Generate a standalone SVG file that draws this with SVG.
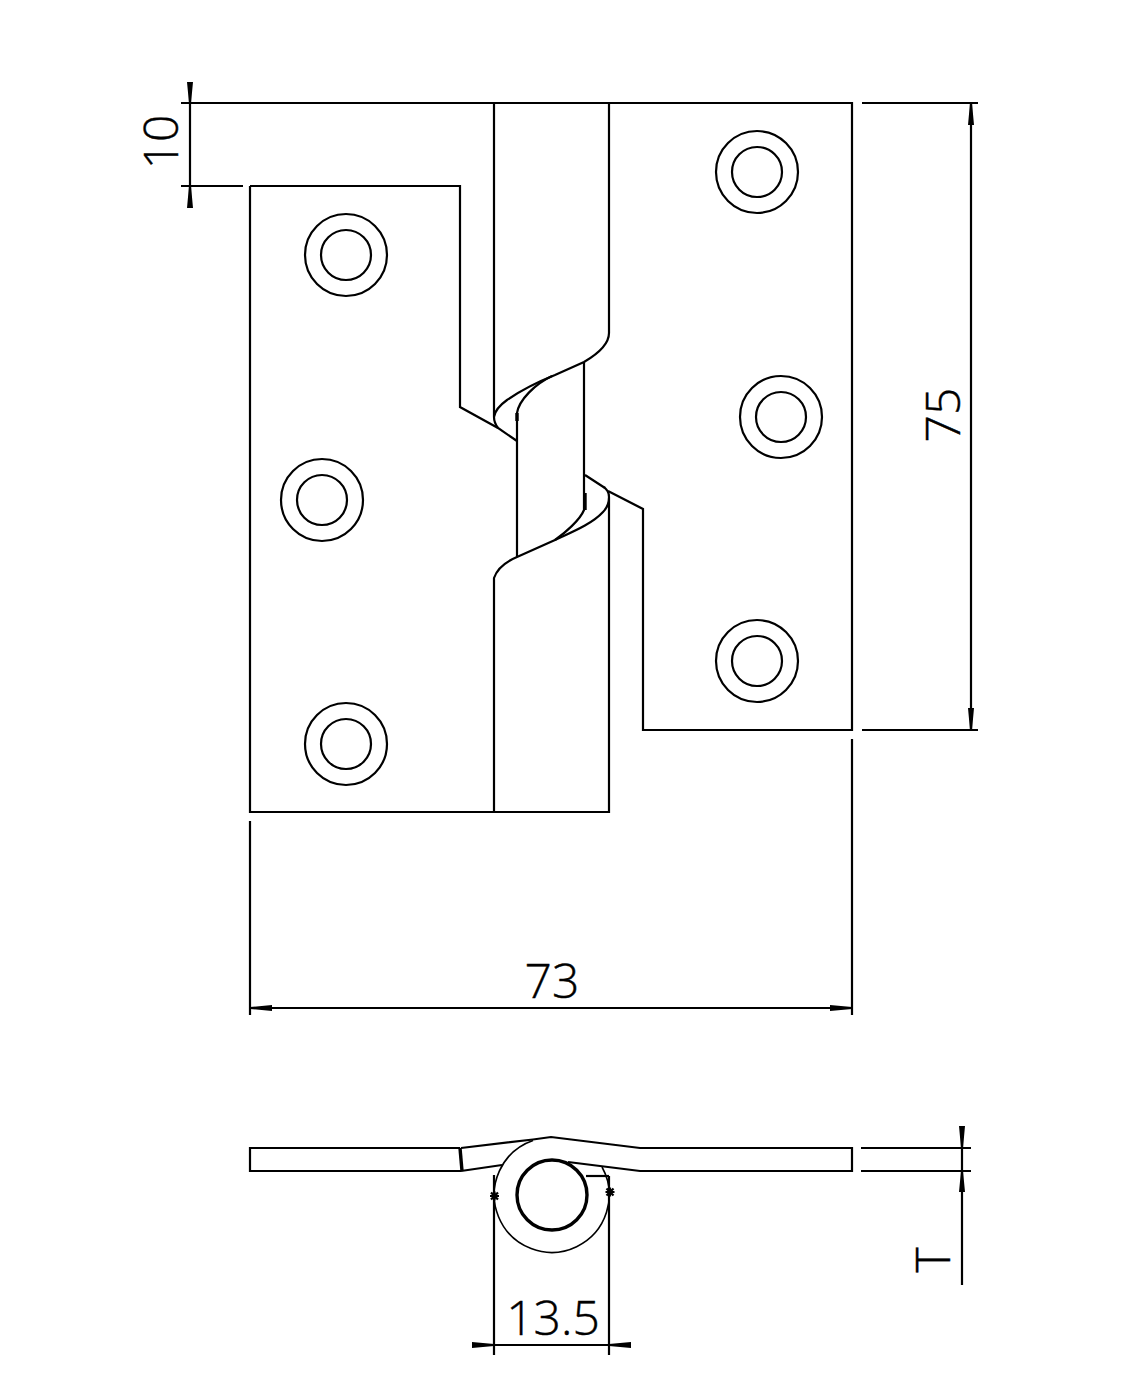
<svg xmlns="http://www.w3.org/2000/svg" width="1128" height="1397" viewBox="0 0 1128 1397">
<style>
.l{fill:none;stroke:#000;stroke-width:2.200}
.d{fill:none;stroke:#000;stroke-width:2.200}
.s{fill:none;stroke:#000;stroke-width:1.600}
.h{fill:#000;stroke:none}
.t{font-family:"Open Sans","Liberation Sans",Arial,sans-serif;font-weight:300;font-size:48px;fill:#000;stroke:#000;stroke-width:0.400;text-anchor:middle}
.p{fill:none;stroke:#000;stroke-width:3.400}
</style>
<rect width="1128" height="1397" fill="#fff"/>
<g id="front-view">
<path class="l" d="M181 103H852V730H643V509L608 491M605 488L585 475"/>
<path class="l" d="M517 441L498 428C495 424 494 421 494 417V103M609 103V333C609 345 596 355 584 362L555 375C540 381 520 391 507 400C500 405 495 410 494 417"/>
<path class="l" d="M250 186H460V407L498 428M250 186V812H609V497C609 492 607 490 604 487M494 812V578C497 569 505 562 517 557L555 540C572 532 592 524 603 512C607 508 609 503 609 497"/>
<path class="l" d="M517 557V413C519 400 535 384 552 376M584 362V510C580 520 565 533 555 540"/>
<path class="p" d="M517 413V421M585 493V510"/>
<g class="l">
<circle cx="757" cy="172" r="41"/><circle cx="757" cy="172" r="25"/>
<circle cx="781" cy="417" r="41"/><circle cx="781" cy="417" r="25"/>
<circle cx="757" cy="661" r="41"/><circle cx="757" cy="661" r="25"/>
<circle cx="346" cy="255" r="41"/><circle cx="346" cy="255" r="25"/>
<circle cx="322" cy="500" r="41"/><circle cx="322" cy="500" r="25"/>
<circle cx="346" cy="744" r="41"/><circle cx="346" cy="744" r="25"/>
</g>
</g>
<g id="end-view">
<path class="l" d="M460 1148H250V1171H461"/>
<path class="p" d="M460 1148L462 1171"/>
<path class="l" d="M461 1148L533 1139.500L551 1137L640 1148H852V1171H640L568 1162M461 1171L502 1165"/>
<path class="s" d="M533 1140.500A57.500 57.500 0 1 0 602 1167"/>
<path class="l" d="M586 1176H609"/>
<circle class="p" cx="552" cy="1195" r="35"/>
<path class="l" d="M490 1196H499M494.500 1191.500V1200.500M491 1192.500L498 1199.500M498 1192.500L491 1199.500M605.500 1192H614.500M610 1187.500V1196.500M606.500 1188.500L613.500 1195.500M613.500 1188.500L606.500 1195.500"/>
</g>
<g id="dimensions">
<path class="d" d="M181 186H243M190 82V208"/>
<path class="h" d="M187 82H193L191 103H189ZM187 208H193L191 186H189Z"/>
<text class="t" transform="translate(178 142) rotate(-90)">10</text>
<path class="d" d="M862 103H978M862 730H978M971 103V730"/>
<path class="h" d="M968 125H974L972 103H970ZM968 708H974L972 730H970Z"/>
<text class="t" transform="translate(960 415) rotate(-90)">75</text>
<path class="d" d="M250 821V1015M852 739V1015M250 1008H852"/>
<path class="h" d="M272 1005V1011L250 1009V1007ZM830 1005V1011L852 1009V1007Z"/>
<text class="t" x="552" y="998">73</text>
<path class="d" d="M861 1148H971M861 1171H971M962 1126V1285"/>
<path class="h" d="M959 1126H965L963 1148H961ZM959 1192H965L963 1171H961Z"/>
<text class="t" transform="translate(950 1260) rotate(-90)">T</text>
<path class="d" d="M494 1175V1355M609 1176V1355M472 1345H631"/>
<path class="h" d="M472 1342V1348L494 1346V1344ZM631 1342V1348L609 1346V1344Z"/>
<text class="t" x="553" y="1335">13.5</text>
</g>
</svg>
